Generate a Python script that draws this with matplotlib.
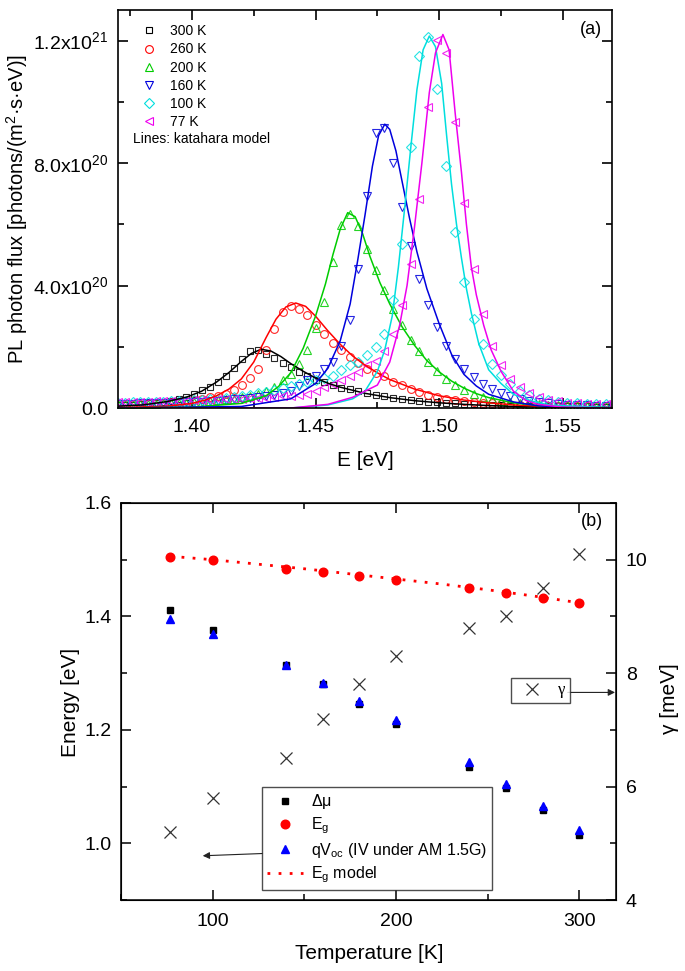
import matplotlib
matplotlib.use("Agg")
import matplotlib.pyplot as plt
from matplotlib.lines import Line2D
from matplotlib.ticker import FixedLocator, MultipleLocator
import numpy as np

plt.rcParams['font.family'] = ['Liberation Sans', 'DejaVu Sans']
plt.rcParams['mathtext.default'] = 'regular'

# ---------------- panel (a) data ----------------
SCALE = 1e20  # values below are in units of 1e20 photons/(m2 s eV)
energy_eV = [1.3700, 1.3730, 1.3761, 1.3791, 1.3822, 1.3853, 1.3884, 1.3915, 1.3947, 1.3978,
             1.4010, 1.4041, 1.4073, 1.4105, 1.4137, 1.4170, 1.4202, 1.4235, 1.4268, 1.4300,
             1.4333, 1.4367, 1.4400, 1.4434, 1.4467, 1.4501, 1.4535, 1.4569, 1.4604, 1.4638,
             1.4673, 1.4708, 1.4743, 1.4778, 1.4813, 1.4848, 1.4884, 1.4920, 1.4956, 1.4992,
             1.5028, 1.5065, 1.5102, 1.5139, 1.5176, 1.5213, 1.5250, 1.5288, 1.5326, 1.5364,
             1.5402, 1.5440, 1.5479, 1.5518, 1.5556, 1.5596, 1.5635, 1.5674]

pl_300K = [0.10, 0.10, 0.11, 0.13, 0.15, 0.17, 0.20, 0.24, 0.29, 0.37,
           0.46, 0.58, 0.70, 0.86, 1.05, 1.32, 1.60, 1.86, 1.90, 1.76,
           1.63, 1.46, 1.33, 1.17, 1.04, 0.93, 0.85, 0.75, 0.67, 0.61,
           0.54, 0.49, 0.44, 0.40, 0.34, 0.30, 0.27, 0.24, 0.21, 0.19,
           0.17, 0.15, 0.14, 0.12, 0.11, 0.10, 0.09, 0.08, 0.07, 0.07,
           0.06, 0.06, 0.05, 0.05, 0.05, 0.05, 0.04, 0.04]
pl_260K = [0.13, 0.13, 0.13, 0.14, 0.15, 0.16, 0.17, 0.19, 0.21, 0.24,
           0.27, 0.31, 0.35, 0.40, 0.47, 0.58, 0.74, 0.97, 1.28, 1.90,
           2.57, 3.12, 3.34, 3.25, 3.03, 2.71, 2.43, 2.12, 1.90, 1.68,
           1.47, 1.28, 1.14, 1.03, 0.85, 0.74, 0.63, 0.53, 0.44, 0.36,
           0.31, 0.26, 0.22, 0.19, 0.17, 0.15, 0.13, 0.11, 0.10, 0.09,
           0.08, 0.08, 0.07, 0.07, 0.06, 0.06, 0.06, 0.05]
pl_200K = [0.12, 0.12, 0.12, 0.13, 0.13, 0.14, 0.15, 0.16, 0.17, 0.18,
           0.20, 0.21, 0.23, 0.25, 0.28, 0.31, 0.35, 0.40, 0.47, 0.57,
           0.70, 0.90, 1.12, 1.45, 1.90, 2.60, 3.46, 4.77, 5.97, 6.35,
           5.94, 5.21, 4.50, 3.87, 3.24, 2.71, 2.23, 1.85, 1.50, 1.21,
           0.96, 0.75, 0.58, 0.46, 0.37, 0.30, 0.24, 0.20, 0.17, 0.14,
           0.12, 0.11, 0.10, 0.09, 0.08, 0.08, 0.07, 0.07]
pl_160K = [0.14, 0.14, 0.14, 0.15, 0.15, 0.16, 0.16, 0.17, 0.18, 0.19,
           0.20, 0.21, 0.23, 0.24, 0.26, 0.28, 0.30, 0.33, 0.36, 0.39,
           0.43, 0.48, 0.56, 0.72, 0.90, 1.06, 1.28, 1.50, 2.01, 2.86,
           4.55, 6.92, 8.97, 9.15, 7.99, 6.57, 5.28, 4.23, 3.35, 2.64,
           2.04, 1.61, 1.28, 1.01, 0.79, 0.63, 0.48, 0.38, 0.30, 0.24,
           0.19, 0.16, 0.13, 0.11, 0.10, 0.09, 0.08, 0.08]
pl_100K = [0.18, 0.18, 0.19, 0.19, 0.20, 0.20, 0.21, 0.22, 0.23, 0.24,
           0.26, 0.27, 0.29, 0.31, 0.34, 0.37, 0.40, 0.44, 0.48, 0.53,
           0.59, 0.65, 0.72, 0.79, 0.85, 0.91, 0.97, 1.06, 1.23, 1.39,
           1.50, 1.72, 1.99, 2.43, 3.52, 5.37, 8.51, 11.50, 12.11, 10.41,
           7.91, 5.75, 4.12, 2.92, 2.10, 1.45, 1.09, 0.79, 0.57, 0.41,
           0.31, 0.25, 0.20, 0.17, 0.15, 0.14, 0.13, 0.12]
pl_77K = [0.20, 0.20, 0.20, 0.21, 0.21, 0.22, 0.22, 0.23, 0.23, 0.24,
          0.25, 0.26, 0.27, 0.28, 0.29, 0.30, 0.31, 0.32, 0.33, 0.34,
          0.36, 0.38, 0.40, 0.43, 0.46, 0.57, 0.68, 0.79, 0.90, 1.03,
          1.17, 1.39, 1.55, 1.85, 2.43, 3.35, 4.72, 6.84, 9.82, 12.02,
          11.61, 9.35, 6.70, 4.55, 3.08, 2.04, 1.39, 0.95, 0.68, 0.48,
          0.35, 0.27, 0.22, 0.18, 0.16, 0.14, 0.13, 0.12]

# Katahara model lines
model_E_300K = [1.370, 1.380, 1.390, 1.398, 1.404, 1.410, 1.415, 1.420, 1.424, 1.428, 1.432, 1.436,
                1.440, 1.445, 1.450, 1.455, 1.460, 1.470, 1.480, 1.490, 1.500, 1.510, 1.520, 1.530,
                1.545, 1.570]
model_300K = [0.06, 0.10, 0.21, 0.36, 0.55, 0.85, 1.16, 1.52, 1.78, 1.92, 1.86, 1.68,
              1.45, 1.20, 0.98, 0.81, 0.68, 0.48, 0.34, 0.24, 0.17, 0.12, 0.08, 0.05,
              0.03, 0.01]
model_E_260K = [1.370, 1.390, 1.400, 1.405, 1.410, 1.415, 1.420, 1.425, 1.430, 1.434, 1.438, 1.442,
                1.446, 1.450, 1.455, 1.460, 1.465, 1.470, 1.475, 1.480, 1.490, 1.500, 1.510, 1.520,
                1.530, 1.540, 1.555, 1.570]
model_260K = [0.01, 0.06, 0.15, 0.25, 0.40, 0.62, 0.95, 1.50, 2.30, 2.90, 3.30, 3.43,
              3.32, 3.00, 2.52, 2.08, 1.70, 1.40, 1.15, 0.93, 0.62, 0.40, 0.26, 0.17,
              0.10, 0.06, 0.02, 0.01]
model_E_200K = [1.370, 1.400, 1.420, 1.430, 1.435, 1.440, 1.445, 1.450, 1.454, 1.457, 1.460, 1.463,
                1.466, 1.469, 1.472, 1.476, 1.480, 1.485, 1.490, 1.495, 1.500, 1.505, 1.510, 1.515,
                1.520, 1.530, 1.540, 1.555, 1.570]
model_200K = [0.00, 0.03, 0.15, 0.40, 0.70, 1.15, 1.95, 3.00, 4.05, 5.00, 5.85, 6.38,
              6.25, 5.70, 4.95, 4.10, 3.40, 2.65, 2.05, 1.55, 1.18, 0.88, 0.65, 0.47,
              0.34, 0.17, 0.08, 0.03, 0.01]
model_E_160K = [1.370, 1.420, 1.440, 1.450, 1.455, 1.460, 1.464, 1.467, 1.470, 1.473, 1.4755, 1.478,
                1.480, 1.4825, 1.485, 1.488, 1.491, 1.495, 1.500, 1.505, 1.510, 1.515, 1.520, 1.530,
                1.540, 1.555, 1.570]
model_160K = [0.00, 0.05, 0.30, 0.80, 1.30, 2.20, 3.40, 4.80, 6.30, 7.90, 8.90, 9.27,
              9.10, 8.40, 7.40, 6.20, 5.10, 3.90, 2.75, 1.75, 1.10, 0.72, 0.45, 0.20,
              0.07, 0.02, 0.01]
model_E_100K = [1.370, 1.440, 1.455, 1.465, 1.470, 1.475, 1.478, 1.481, 1.4835, 1.486, 1.4885, 1.491,
                1.4935, 1.496, 1.4985, 1.501, 1.503, 1.505, 1.507, 1.509, 1.511, 1.513, 1.516, 1.520,
                1.525, 1.530, 1.536, 1.545, 1.570]
model_100K = [0.00, 0.00, 0.10, 0.30, 0.55, 1.20, 1.90, 3.00, 4.60, 6.50, 8.50, 10.40,
              11.70, 12.15, 11.80, 10.60, 8.90, 7.30, 6.00, 4.90, 3.90, 3.10, 2.10, 1.25,
              0.80, 0.45, 0.25, 0.09, 0.01]
model_E_77K = [1.370, 1.440, 1.455, 1.465, 1.470, 1.475, 1.480, 1.484, 1.487, 1.490, 1.493, 1.496,
               1.4985, 1.5015, 1.504, 1.5065, 1.509, 1.511, 1.513, 1.515, 1.518, 1.521, 1.525, 1.530,
               1.535, 1.540, 1.550, 1.570]
model_77K = [0.00, 0.00, 0.12, 0.35, 0.55, 0.75, 1.50, 2.70, 4.00, 5.90, 8.00, 10.30,
             11.60, 12.20, 11.70, 9.60, 7.70, 6.00, 4.60, 3.70, 2.70, 1.90, 1.20, 0.55,
             0.25, 0.12, 0.03, 0.00]

labels_a = ['300 K', '260 K', '200 K', '160 K', '100 K', '77 K']
colors_a = ['#000000', '#ff0000', '#00cc00', '#0000dd', '#00dede', '#ee00ee']
markers_a = ['s', 'o', '^', 'v', 'D', '<']
msizes_a = [4.8, 5.6, 6.0, 6.0, 4.6, 6.0]
data_a = [pl_300K, pl_260K, pl_200K, pl_160K, pl_100K, pl_77K]
model_E_a = [model_E_300K, model_E_260K, model_E_200K, model_E_160K, model_E_100K, model_E_77K]
model_a = [model_300K, model_260K, model_200K, model_160K, model_100K, model_77K]

xticks_a = [1.40, 1.45, 1.50, 1.55]
yticks_a = [0.0, 4.0e20, 8.0e20, 1.2e21]
yticklabels_a = ['0.0', r'$\mathregular{4.0x10^{20}}$', r'$\mathregular{8.0x10^{20}}$',
                 r'$\mathregular{1.2x10^{21}}$']

# ---------------- panel (b) data ----------------
temperature_K = [77, 100, 140, 160, 180, 200, 240, 260, 280, 300]
delta_mu_eV = [1.411, 1.376, 1.314, 1.280, 1.246, 1.210, 1.135, 1.098, 1.058, 1.014]
Eg_eV = [1.504, 1.499, 1.484, 1.479, 1.472, 1.465, 1.450, 1.441, 1.432, 1.423]
qVoc_eV = [1.395, 1.369, 1.314, 1.283, 1.250, 1.217, 1.143, 1.104, 1.066, 1.023]
gamma_meV = [5.2, 5.8, 6.5, 7.2, 7.8, 8.3, 8.8, 9.0, 9.5, 10.1]
Eg_model_T = [77, 100, 125, 150, 175, 200, 225, 250, 275, 300]
Eg_model_eV = [1.506, 1.500, 1.492, 1.484, 1.475, 1.466, 1.457, 1.447, 1.436, 1.424]

# ---------------- figure ----------------
fig = plt.figure(figsize=(6.85, 9.71), dpi=100)
fig.patch.set_facecolor('white')

# ---- panel (a)
ax1 = fig.add_axes([0.1718, 0.5798, 0.7221, 0.4099])
for E, v, c, m, ms in zip([energy_eV] * 6, data_a, colors_a, markers_a, msizes_a):
    ax1.plot(E, np.array(v) * SCALE, ls='none', marker=m, mfc='none', mec=c,
             ms=ms, mew=0.8, alpha=0.85)
for E_m, v_m, c in zip(model_E_a, model_a, colors_a):
    ax1.plot(E_m, np.array(v_m) * SCALE, color=c, lw=1.1)

ax1.set_xlim(1.37, 1.57)
ax1.set_ylim(0, 13.0e20)
ax1.xaxis.set_major_locator(FixedLocator(xticks_a))
ax1.xaxis.set_major_formatter(matplotlib.ticker.FixedFormatter(['%.2f' % t for t in xticks_a]))
ax1.xaxis.set_minor_locator(MultipleLocator(0.025))
ax1.yaxis.set_major_locator(FixedLocator(yticks_a))
ax1.set_yticklabels(yticklabels_a)
ax1.yaxis.set_minor_locator(MultipleLocator(2e20))
ax1.tick_params(which='both', direction='in', top=True, right=True, width=1.2)
ax1.tick_params(which='major', length=7, labelsize=14)
ax1.tick_params(which='minor', length=4)
ax1.tick_params(axis='x', pad=8)
ax1.tick_params(axis='y', pad=6.5)
for sp in ax1.spines.values():
    sp.set_linewidth(1.2)

ax1.set_xlabel('E [eV]', fontsize=15)
ax1.xaxis.set_label_coords(0.5, -0.108)
ax1.set_ylabel(r'PL photon flux [photons/(m$^{2}$·s·eV)]', fontsize=14.5)
ax1.yaxis.set_label_coords(-0.177, 0.50)

handles_a = [Line2D([], [], ls='none', marker=m, mfc='none', mec=c, ms=ms, mew=0.8)
             for c, m, ms in zip(colors_a, markers_a, msizes_a)]
leg1 = ax1.legend(handles_a, labels_a, loc='upper left', bbox_to_anchor=(0.049, 0.964),
                  borderaxespad=0, borderpad=0, frameon=False, handlelength=1.0,
                  handletextpad=1.0, labelspacing=0.3, fontsize=10)
ax1.text(0.0315, 0.675, 'Lines: katahara model', transform=ax1.transAxes,
         ha='left', va='center', fontsize=10)
ax1.text(0.956, 0.950, '(a)', transform=ax1.transAxes, ha='center', va='center', fontsize=13)

# ---- panel (b)
ax = fig.add_axes([0.1766, 0.0731, 0.7226, 0.4089])
ax.plot(temperature_K, delta_mu_eV, ls='none', marker='s', color='k', ms=5.0,
        label=r'$\Delta\mu$', zorder=3)
ax.plot(temperature_K, Eg_eV, ls='none', marker='o', color='#ff0000', mec='#ff0000',
        ms=6.2, label=r'E$_g$', zorder=3)
ax.plot(temperature_K, qVoc_eV, ls='none', marker='^', color='#0000ff', mec='#0000ff',
        ms=6.4, label=r'qV$_{oc}$ (IV under AM 1.5G)', zorder=4)
ax.plot(Eg_model_T, Eg_model_eV, ls=(0, (1, 3)), color='#ff0000', lw=2.0,
        label=r'E$_g$ model', zorder=2)

ax.set_xlim(50, 320)
ax.set_ylim(0.9, 1.6)
ax.xaxis.set_major_locator(FixedLocator([100, 200, 300]))
ax.xaxis.set_minor_locator(MultipleLocator(50))
ax.yaxis.set_major_locator(FixedLocator([1.0, 1.2, 1.4, 1.6]))
ax.yaxis.set_minor_locator(MultipleLocator(0.1))
ax.tick_params(which='both', direction='in', top=True, right=False, width=1.1)
ax.tick_params(which='major', length=7, labelsize=14)
ax.tick_params(which='minor', length=4)
ax.tick_params(axis='x', pad=9)
ax.tick_params(axis='y', pad=6.5)
for sp in ax.spines.values():
    sp.set_linewidth(1.1)
ax.set_xlabel('Temperature [K]', fontsize=15)
ax.xaxis.set_label_coords(0.501, -0.110)
ax.set_ylabel('Energy [eV]', fontsize=15)
ax.yaxis.set_label_coords(-0.082, 0.4975)

leg = ax.legend(loc='lower left', bbox_to_anchor=(0.2842, 0.0252), borderaxespad=0,
                fontsize=11.5, frameon=True, fancybox=False, edgecolor='#222222',
                handlelength=2.3, handletextpad=0.45, borderpad=0.32, labelspacing=0.28)
leg.get_frame().set_linewidth(1.0)
ax.annotate('', xy=(94.6, 0.978), xytext=(127.3, 0.982),
            arrowprops=dict(arrowstyle='-|>', color='#222222', lw=0.8,
                            mutation_scale=10, shrinkA=0, shrinkB=0),
            annotation_clip=False)
ax.text(0.951, 0.953, '(b)', transform=ax.transAxes, ha='center', va='center', fontsize=13)

ax2 = ax.twinx()
ax2.plot(temperature_K, gamma_meV, ls='none', marker='x', color='#333333', ms=8,
         mew=0.9, label='γ')
ax2.set_ylim(4, 11)
ax2.yaxis.set_major_locator(FixedLocator([4, 6, 8, 10]))
ax2.yaxis.set_minor_locator(MultipleLocator(1))
ax2.tick_params(which='both', direction='in', width=1.1)
ax2.tick_params(which='major', length=7, labelsize=14, pad=7)
ax2.tick_params(which='minor', length=4)
ax2.set_ylabel('γ [meV]', fontsize=15)
ax2.yaxis.set_label_coords(1.088, 0.506)
leg2 = ax2.legend(loc='upper left', bbox_to_anchor=(0.7873, 0.5584), borderaxespad=0,
                  prop={'family': 'Liberation Serif', 'size': 12}, frameon=True,
                  fancybox=False, edgecolor='#222222', handlelength=2.0,
                  handletextpad=0.6, borderpad=0.25)
leg2.get_frame().set_linewidth(1.0)
ax2.annotate('', xy=(319.5, 7.66), xytext=(293.7, 7.66),
             arrowprops=dict(arrowstyle='-|>', color='#222222', lw=0.8,
                             mutation_scale=10, shrinkA=0, shrinkB=0),
             annotation_clip=False)

fig.savefig('out.png', dpi=100)
